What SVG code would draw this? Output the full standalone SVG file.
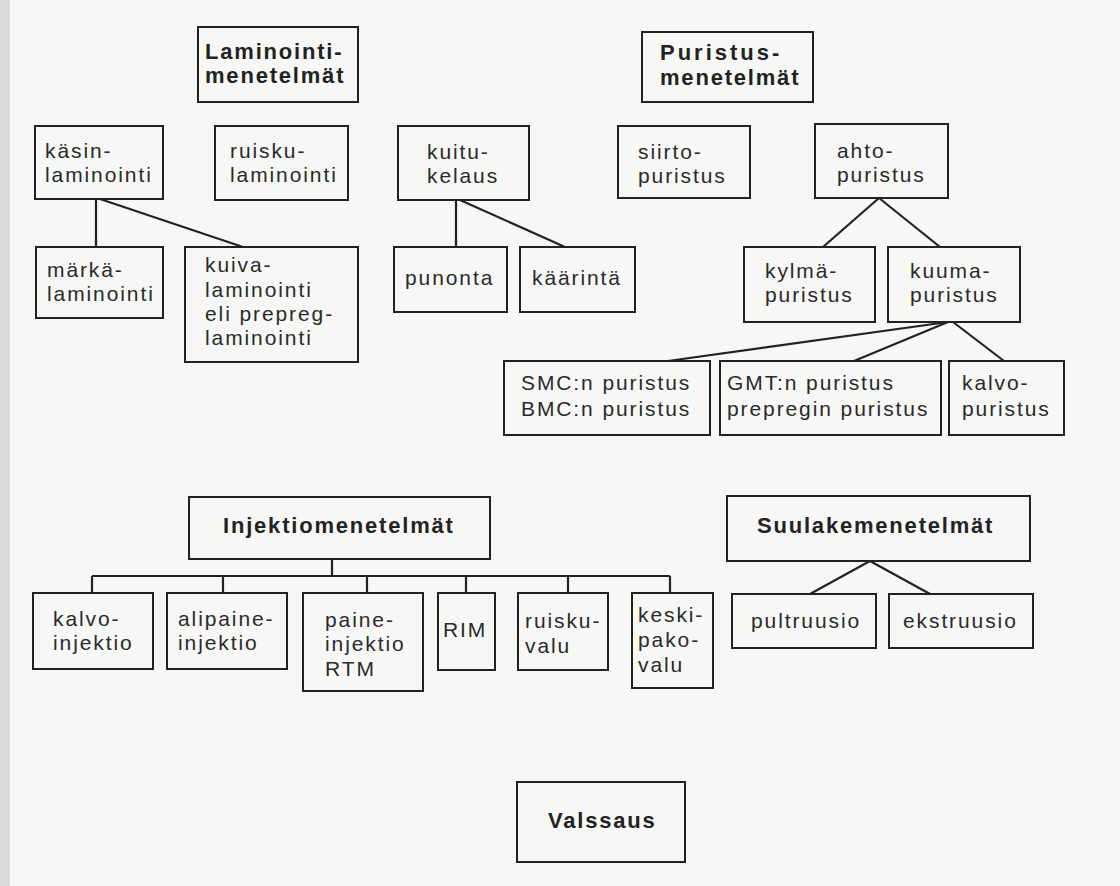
<svg xmlns="http://www.w3.org/2000/svg" width="1120" height="886" viewBox="0 0 1120 886">
<style>
.box{fill:none;stroke:#222;stroke-width:2}
.t{font-family:"Liberation Sans",Arial,sans-serif;font-size:21px;fill:#2a2a2a;letter-spacing:1.9px}
.b{font-family:"Liberation Sans",Arial,sans-serif;font-size:22px;font-weight:bold;fill:#222;letter-spacing:1.8px}
.c{fill:none;stroke:#222;stroke-width:2.2}
</style>
<rect x="0" y="0" width="1120" height="886" fill="#f7f7f5"/>
<rect x="0" y="0" width="10" height="886" fill="#d9d9d7"/>

<g id="connectors">
<line class="c" x1="96" y1="199" x2="96" y2="247"/>
<line class="c" x1="100" y1="199" x2="243" y2="247"/>
<line class="c" x1="456" y1="200" x2="456" y2="247"/>
<line class="c" x1="460" y1="200" x2="565" y2="247"/>
<line class="c" x1="879" y1="198" x2="823" y2="247"/>
<line class="c" x1="879" y1="198" x2="940" y2="247"/>
<line class="c" x1="948" y1="322" x2="668" y2="361"/>
<line class="c" x1="948" y1="322" x2="854" y2="361"/>
<line class="c" x1="953" y1="322" x2="1004" y2="361"/>
<line class="c" x1="332" y1="559" x2="332" y2="576"/>
<line class="c" x1="92" y1="576" x2="670" y2="576"/>
<line class="c" x1="92" y1="576" x2="92" y2="593"/>
<line class="c" x1="223" y1="576" x2="223" y2="593"/>
<line class="c" x1="367" y1="576" x2="367" y2="593"/>
<line class="c" x1="466" y1="576" x2="466" y2="593"/>
<line class="c" x1="568" y1="576" x2="568" y2="593"/>
<line class="c" x1="670" y1="576" x2="670" y2="593"/>
<line class="c" x1="870" y1="561" x2="810" y2="594"/>
<line class="c" x1="870" y1="561" x2="930" y2="594"/>
</g>

<g id="laminointi">
<rect class="box" x="198" y="27" width="160" height="75"/>
<text class="b" x="205" y="59">Laminointi-</text>
<text class="b" x="205" y="83">menetelmät</text>
</g>
<g id="puristus">
<rect class="box" x="642" y="32" width="171" height="70"/>
<text class="b" x="660" y="60" style="letter-spacing:3px">Puristus-</text>
<text class="b" x="660" y="85">menetelmät</text>
</g>

<g id="kasin">
<rect class="box" x="35" y="126" width="128" height="73"/>
<text class="t" x="45" y="158">käsin-</text>
<text class="t" x="45" y="182">laminointi</text>
</g>
<g id="ruisku">
<rect class="box" x="215" y="126" width="133" height="74"/>
<text class="t" x="230" y="158">ruisku-</text>
<text class="t" x="230" y="182">laminointi</text>
</g>
<g id="marka">
<rect class="box" x="36" y="247" width="127" height="71"/>
<text class="t" x="47" y="277">märkä-</text>
<text class="t" x="47" y="301">laminointi</text>
</g>
<g id="kuiva">
<rect class="box" x="185" y="247" width="173" height="115"/>
<text class="t" x="205" y="272">kuiva-</text>
<text class="t" x="205" y="297">laminointi</text>
<text class="t" x="205" y="321">eli prepreg-</text>
<text class="t" x="205" y="345">laminointi</text>
</g>

<g id="kuitukelaus">
<rect class="box" x="398" y="126" width="131" height="74"/>
<text class="t" x="427" y="159">kuitu-</text>
<text class="t" x="427" y="183">kelaus</text>
</g>
<g id="punonta">
<rect class="box" x="394" y="247" width="113" height="65"/>
<text class="t" x="405" y="285">punonta</text>
</g>
<g id="kaarinta">
<rect class="box" x="520" y="247" width="115" height="65"/>
<text class="t" x="532" y="285">käärintä</text>
</g>

<g id="siirto">
<rect class="box" x="618" y="126" width="132" height="72"/>
<text class="t" x="638" y="159">siirto-</text>
<text class="t" x="638" y="183">puristus</text>
</g>
<g id="ahto">
<rect class="box" x="815" y="124" width="133" height="74"/>
<text class="t" x="837" y="158">ahto-</text>
<text class="t" x="837" y="182">puristus</text>
</g>
<g id="kylma">
<rect class="box" x="744" y="247" width="131" height="75"/>
<text class="t" x="765" y="278">kylmä-</text>
<text class="t" x="765" y="302">puristus</text>
</g>
<g id="kuuma">
<rect class="box" x="888" y="247" width="132" height="75"/>
<text class="t" x="910" y="278">kuuma-</text>
<text class="t" x="910" y="302">puristus</text>
</g>
<g id="smc">
<rect class="box" x="504" y="361" width="206" height="74"/>
<text class="t" x="521" y="390">SMC:n puristus</text>
<text class="t" x="521" y="416">BMC:n puristus</text>
</g>
<g id="gmt">
<rect class="box" x="720" y="361" width="221" height="74"/>
<text class="t" x="727" y="390">GMT:n puristus</text>
<text class="t" x="727" y="416">prepregin puristus</text>
</g>
<g id="kalvopuristus">
<rect class="box" x="949" y="361" width="115" height="74"/>
<text class="t" x="962" y="390">kalvo-</text>
<text class="t" x="962" y="416">puristus</text>
</g>

<g id="injektio">
<rect class="box" x="189" y="497" width="301" height="62"/>
<text class="b" x="223" y="533">Injektiomenetelmät</text>
</g>
<g id="kalvoinjektio">
<rect class="box" x="33" y="593" width="120" height="76"/>
<text class="t" x="53" y="626">kalvo-</text>
<text class="t" x="53" y="650">injektio</text>
</g>
<g id="alipaine">
<rect class="box" x="167" y="593" width="120" height="76"/>
<text class="t" x="178" y="626">alipaine-</text>
<text class="t" x="178" y="650">injektio</text>
</g>
<g id="paine">
<rect class="box" x="303" y="593" width="120" height="98"/>
<text class="t" x="325" y="627">paine-</text>
<text class="t" x="325" y="651">injektio</text>
<text class="t" x="325" y="676">RTM</text>
</g>
<g id="rim">
<rect class="box" x="438" y="593" width="57" height="77"/>
<text class="t" x="443" y="637">RIM</text>
</g>
<g id="ruiskuvalu">
<rect class="box" x="518" y="593" width="90" height="77"/>
<text class="t" x="525" y="628">ruisku-</text>
<text class="t" x="525" y="653">valu</text>
</g>
<g id="keskipakovalu">
<rect class="box" x="632" y="593" width="81" height="95"/>
<text class="t" x="638" y="622">keski-</text>
<text class="t" x="638" y="647">pako-</text>
<text class="t" x="638" y="672">valu</text>
</g>

<g id="suulake">
<rect class="box" x="727" y="496" width="303" height="65"/>
<text class="b" x="757" y="533">Suulakemenetelmät</text>
</g>
<g id="pultruusio">
<rect class="box" x="732" y="594" width="144" height="54"/>
<text class="t" x="751" y="628">pultruusio</text>
</g>
<g id="ekstruusio">
<rect class="box" x="889" y="594" width="144" height="54"/>
<text class="t" x="903" y="628">ekstruusio</text>
</g>

<g id="valssaus">
<rect class="box" x="517" y="782" width="168" height="80"/>
<text class="b" x="548" y="828">Valssaus</text>
</g>
</svg>
